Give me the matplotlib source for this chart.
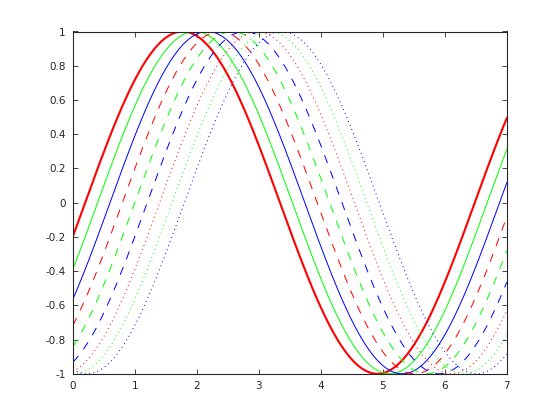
import numpy as np
import matplotlib
matplotlib.use("Agg")
import matplotlib.pyplot as plt

# Phase shifts: each curve is sin(x - shift)
shifts = [0.2, 0.4, 0.6, 0.8, 1.0, 1.2, 1.4, 1.6, 1.8]
colors = ["#ff0000", "#00ff00", "#0000ff"] * 3
styles = ["solid"] * 3 + ["dashed"] * 3 + ["dotted"] * 3
widths = [1.5] + [0.72] * 8
xticks = [0, 1, 2, 3, 4, 5, 6, 7]
yticks = [-1, -0.8, -0.6, -0.4, -0.2, 0, 0.2, 0.4, 0.6, 0.8, 1]
ytick_labels = ["-1", "-0.8", "-0.6", "-0.4", "-0.2", "0", "0.2", "0.4", "0.6", "0.8", "1"]

plt.rcParams['lines.scale_dashes'] = False
fig = plt.figure(figsize=(5.6, 4.2), dpi=100)
ax = fig.add_axes([0.13, 0.11, 0.775, 0.815])

x = np.linspace(0, 7, 351)
dash_map = {"solid": None, "dashed": (6, 6), "dotted": (0.7, 2.4)}
for s, c, st, w in zip(shifts, colors, styles, widths):
    line, = ax.plot(x, np.sin(x - s), color=c, lw=w, antialiased=True)
    if dash_map[st] is not None:
        line.set_dashes(dash_map[st])

ax.set_xlim(0, 7)
ax.set_ylim(-1, 1)
ax.set_xticks(xticks)
ax.set_yticks(yticks)
ax.set_yticklabels(ytick_labels)
ax.tick_params(direction="in", length=3.5, width=0.6, top=True, right=True,
               labelsize=7.5, colors="#262626", pad=5)
for sp in ax.spines.values():
    sp.set_linewidth(0.8)
    sp.set_color("#262626")

fig.savefig("out.png", dpi=100)
